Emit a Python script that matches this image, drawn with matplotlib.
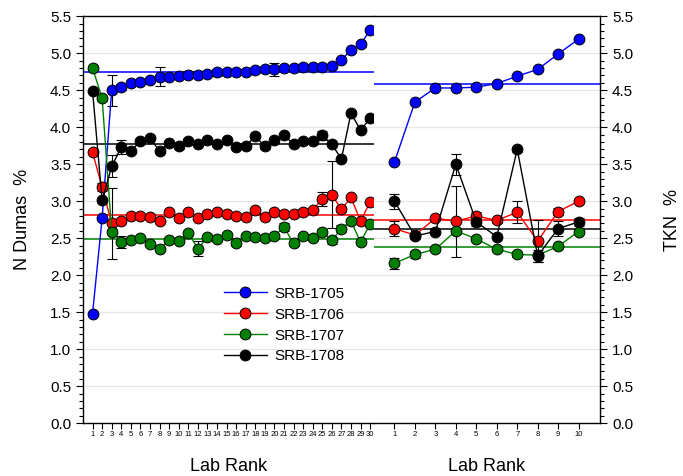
import numpy as np
import matplotlib
matplotlib.use('Agg')
import matplotlib.pyplot as plt
from matplotlib.lines import Line2D

plt.rcParams['font.family'] = ['Liberation Sans', 'DejaVu Sans']

# ---- data ----
series_names = ['SRB-1705', 'SRB-1706', 'SRB-1707', 'SRB-1708']
series_colors = ['#0000ff', '#ff0000', '#008000', '#000000']

# N Dumas, 30 labs
dumas_labs = list(range(1, 31))
dumas_1705 = [1.48, 2.77, 4.50, 4.54, 4.60, 4.61, 4.64, 4.68, 4.68, 4.69,
              4.71, 4.71, 4.72, 4.74, 4.74, 4.75, 4.75, 4.77, 4.78, 4.78,
              4.80, 4.80, 4.81, 4.81, 4.82, 4.83, 4.91, 5.04, 5.12, 5.31]
dumas_1706 = [3.66, 3.19, 2.70, 2.73, 2.80, 2.80, 2.79, 2.73, 2.85, 2.77,
              2.85, 2.77, 2.82, 2.85, 2.83, 2.80, 2.79, 2.88, 2.79, 2.85,
              2.83, 2.82, 2.86, 2.88, 3.03, 3.09, 2.89, 3.05, 2.73, 2.99]
dumas_1707 = [4.80, 4.39, 2.59, 2.45, 2.47, 2.50, 2.42, 2.35, 2.47, 2.46,
              2.57, 2.36, 2.51, 2.49, 2.54, 2.43, 2.53, 2.51, 2.50, 2.53,
              2.65, 2.43, 2.53, 2.50, 2.59, 2.47, 2.63, 2.73, 2.45, 2.69]
dumas_1708 = [4.49, 3.01, 3.47, 3.73, 3.68, 3.81, 3.85, 3.68, 3.78, 3.74,
              3.81, 3.77, 3.82, 3.77, 3.83, 3.73, 3.74, 3.88, 3.74, 3.82,
              3.89, 3.77, 3.81, 3.81, 3.89, 3.77, 3.57, 4.19, 3.96, 4.12]
dumas_1705_err = [0.02, 0.02, 0.21, 0.04, 0.03, 0.03, 0.03, 0.13, 0.03, 0.03,
                  0.05, 0.03, 0.03, 0.05, 0.03, 0.03, 0.03, 0.03, 0.03, 0.09,
                  0.03, 0.03, 0.05, 0.03, 0.03, 0.03, 0.03, 0.03, 0.03, 0.03]
dumas_1706_err = [0.02, 0.05, 0.48, 0.03, 0.03, 0.03, 0.03, 0.03, 0.03, 0.03,
                  0.03, 0.03, 0.03, 0.03, 0.03, 0.03, 0.03, 0.03, 0.03, 0.03,
                  0.03, 0.03, 0.03, 0.03, 0.10, 0.45, 0.03, 0.03, 0.03, 0.03]
dumas_1707_err = [0.02, 0.03, 0.03, 0.08, 0.03, 0.03, 0.03, 0.03, 0.03, 0.03,
                  0.03, 0.10, 0.03, 0.03, 0.03, 0.03, 0.03, 0.03, 0.03, 0.03,
                  0.05, 0.03, 0.03, 0.03, 0.03, 0.05, 0.05, 0.03, 0.03, 0.03]
dumas_1708_err = [0.02, 0.03, 0.15, 0.09, 0.03, 0.03, 0.03, 0.03, 0.03, 0.03,
                  0.03, 0.03, 0.03, 0.03, 0.03, 0.03, 0.03, 0.03, 0.03, 0.03,
                  0.03, 0.03, 0.03, 0.03, 0.06, 0.03, 0.03, 0.03, 0.03, 0.03]
dumas_means = [4.75, 2.81, 2.49, 3.77]

# TKN, 10 labs
tkn_labs = list(range(1, 11))
tkn_1705 = [3.53, 4.34, 4.53, 4.53, 4.54, 4.59, 4.69, 4.78, 4.99, 5.19]
tkn_1706 = [2.63, 2.54, 2.77, 2.73, 2.80, 2.74, 2.85, 2.46, 2.86, 3.00]
tkn_1707 = [2.16, 2.28, 2.35, 2.60, 2.49, 2.35, 2.28, 2.27, 2.39, 2.59]
tkn_1708 = [3.00, 2.53, 2.59, 3.50, 2.72, 2.52, 3.70, 2.26, 2.63, 2.72]
tkn_1705_err = [0.02] * 10
tkn_1706_err = [0.10, 0.03, 0.03, 0.48, 0.05, 0.03, 0.15, 0.28, 0.05, 0.03]
tkn_1707_err = [0.07, 0.05, 0.03, 0.04, 0.03, 0.03, 0.03, 0.03, 0.03, 0.03]
tkn_1708_err = [0.10, 0.04, 0.03, 0.14, 0.05, 0.03, 0.03, 0.08, 0.10, 0.05]
tkn_means = [4.59, 2.74, 2.38, 2.62]

dumas_vals = [dumas_1705, dumas_1706, dumas_1707, dumas_1708]
dumas_errs = [dumas_1705_err, dumas_1706_err, dumas_1707_err, dumas_1708_err]
tkn_vals = [tkn_1705, tkn_1706, tkn_1707, tkn_1708]
tkn_errs = [tkn_1705_err, tkn_1706_err, tkn_1707_err, tkn_1708_err]

fig = plt.figure(figsize=(6.83, 4.76), dpi=100)
ax1 = fig.add_axes([0.1215, 0.111, 0.426, 0.855])
ax2 = fig.add_axes([0.5476, 0.111, 0.331, 0.855])


def draw_panel(ax, labs, vals, errs, means, xmax):
    ax.set_xlim(0, xmax)
    ax.set_ylim(0, 5.5)
    for yv in np.arange(0.5, 5.51, 0.5):
        ax.axhline(yv, color='#e6e6e6', lw=1, zorder=0)
    for m, c in zip(means, series_colors):
        ax.axhline(m, color=c, lw=1.1, zorder=1)
    for v, e, c in zip(vals, errs, series_colors):
        ax.errorbar(labs, v, yerr=e, fmt='none', ecolor='black', elinewidth=0.8,
                    capsize=3.5, capthick=0.8, zorder=2)
        ax.plot(labs, v, '-o', color=c, lw=1, ms=7.8, mfc=c, mec='black',
                mew=0.7, zorder=3)
    ax.set_xticks(labs)
    ax.tick_params(axis='x', labelsize=5.5, length=4, width=0.8, pad=2)
    ax.set_xlabel('Lab Rank', fontsize=13, labelpad=14)
    ax.set_yticks(np.arange(0, 5.51, 0.5))
    ax.set_yticks(np.arange(0, 5.51, 0.1), minor=True)


draw_panel(ax1, dumas_labs, dumas_vals, dumas_errs, dumas_means, 30.4)
draw_panel(ax2, tkn_labs, tkn_vals, tkn_errs, tkn_means, 11.05)

ax1.spines['right'].set_visible(False)
ax1.set_yticklabels(['%.1f' % t for t in np.arange(0, 5.51, 0.5)])
ax1.tick_params(axis='y', which='major', labelsize=11, length=5, width=0.8)
ax1.tick_params(axis='y', which='minor', length=3, width=0.8)
ax1.set_ylabel('N Dumas  %', fontsize=13, labelpad=14)

ax2.spines['left'].set_visible(False)
ax2.yaxis.tick_right()
ax2.yaxis.set_label_position('right')
ax2.set_yticklabels(['%.1f' % t for t in np.arange(0, 5.51, 0.5)])
ax2.tick_params(axis='y', which='major', labelsize=11, length=5, width=0.8)
ax2.tick_params(axis='y', which='minor', length=3, width=0.8)
ax2.set_ylabel('TKN  %', fontsize=13, labelpad=22)

for ax in (ax1, ax2):
    for s in ax.spines.values():
        s.set_linewidth(1)

handles = [Line2D([], [], color=c, lw=1, marker='o', ms=7.8, mfc=c, mec='black', mew=0.7)
           for c in series_colors]
ax1.legend(handles, series_names, loc='upper left', bbox_to_anchor=(0.463, 0.35),
           frameon=False, fontsize=11, handlelength=2.8, handletextpad=0.5,
           labelspacing=0.45, borderaxespad=0)

fig.savefig('out.png', dpi=100)
